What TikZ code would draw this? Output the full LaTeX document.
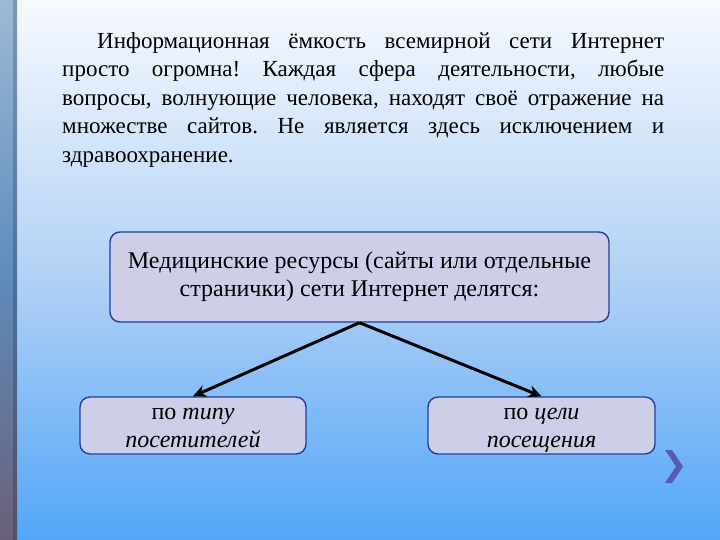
\documentclass[tikz,border=0pt]{standalone}
\usepackage{fontspec}
\setmainfont{Liberation Serif}
\usetikzlibrary{arrows.meta}
\definecolor{bgtop}{HTML}{F6F9FE}
\definecolor{bgmid}{HTML}{B4D2F6}
\definecolor{bgbot}{HTML}{52A6F8}
\definecolor{bartop}{HTML}{9DB9D6}
\definecolor{barmid}{HTML}{5E8DBE}
\definecolor{barbot}{HTML}{6A6078}
\definecolor{boxfill}{HTML}{CDCFE8}
\definecolor{boxline}{HTML}{2040A0}
\definecolor{chev}{HTML}{5A5AB2}
\tikzset{
  box/.style={draw=boxline, fill=boxfill, line width=1.4pt, rounded corners=10pt,
    align=center, inner sep=0pt, font=\fontsize{24}{28.5}\selectfont},
  conn/.style={line width=3pt, -{Stealth[length=13pt,width=12pt]}, black}
}
\begin{document}
\frenchspacing
\begin{tikzpicture}[x=1pt,y=-1pt]
\useasboundingbox (0,0) rectangle (720,540);
\shade[top color=bgtop, bottom color=bgbot, middle color=bgmid] (0,0) rectangle (720,540);
\shade[top color=bartop, bottom color=barbot, middle color=barmid] (0,0) rectangle (17,540);
\fill[black, opacity=0.18] (13,0) rectangle (17,540);
\node[anchor=north west, text width=602pt, align=justify, inner sep=0pt,
  font=\fontsize{23}{28.6}\selectfont] (para) at (62,32)
  {\frenchspacing\hspace*{35pt}Информационная ёмкость всемирной сети Интернет\linebreak
   просто огромна! Каждая сфера деятельности, любые\linebreak
   вопросы, волнующие человека, находят своё отражение на\linebreak
   множестве сайтов. Не является здесь исключением и\linebreak
   здравоохранение.};
\node[box, minimum width=499pt, minimum height=90pt] (b1) at (359.5,277)
  {\strut Медицинские ресурсы (сайты или отдельные\\\strut странички) сети Интернет делятся:};
\node[box, minimum width=226pt, minimum height=57pt] (b2) at (193,425.5) {};
\node[box, minimum width=227pt, minimum height=57pt] (b3) at (541.5,425.5) {};
\node[box, draw=none, fill=none, minimum width=0pt, minimum height=0pt] (t2) at (193,428)
  {\strut по \textit{типу}\\\strut\textit{посетителей}};
\node[box, draw=none, fill=none, minimum width=0pt, minimum height=0pt] (t3) at (541.5,428)
  {\strut по \textit{цели}\\\strut\textit{посещения}};
\draw[conn] (b1.south) -- (b2.north);
\draw[conn] (b1.south) -- (b3.north);
\fill[chev] (665,450) -- (672,450) -- (683,466.5) -- (672,483) -- (665,483) -- (676,466.5) -- cycle;
\end{tikzpicture}
\end{document}
